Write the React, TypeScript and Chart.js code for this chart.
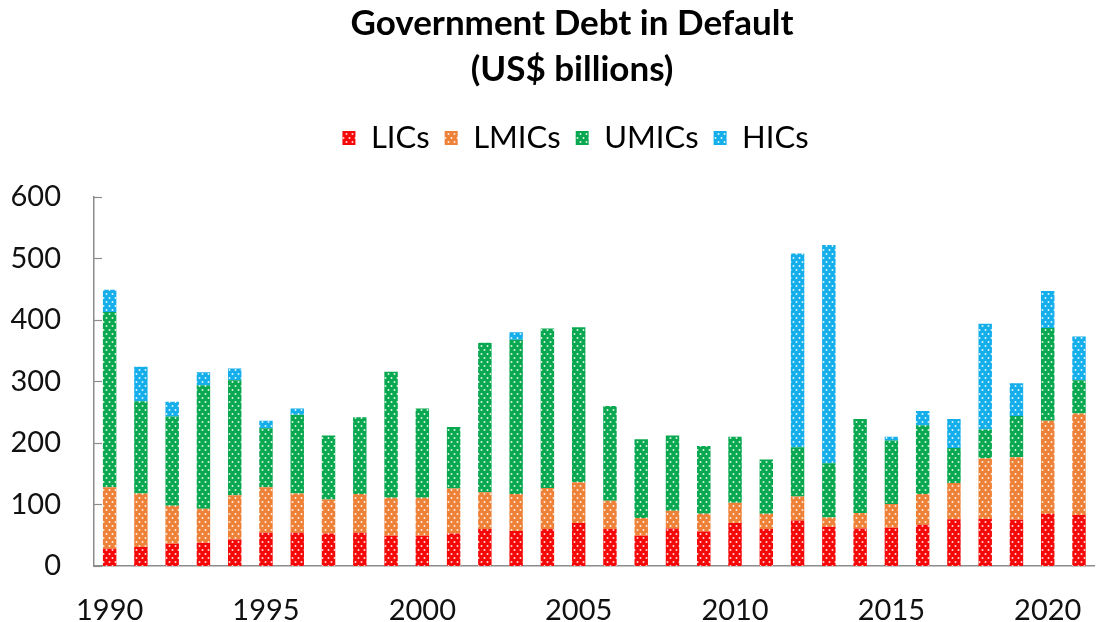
import React, { useEffect, useRef } from 'react';
import { Chart, registerables } from 'chart.js';

Chart.register(...registerables);

const years = ['1990','1991','1992','1993','1994','1995','1996','1997','1998','1999','2000','2001','2002','2003','2004','2005','2006','2007','2008','2009','2010','2011','2012','2013','2014','2015','2016','2017','2018','2019','2020','2021'];
const xTickLabels = ['1990','1995','2000','2005','2010','2015','2020'];

const lics = [28,31,36,38,43,54,54,53,54,49,49,53,60,57,60,70,60,49,61,56,70,60,74,64,61,62,67,76,77,75,85,83];
const lmics = [100,87,62,55,72,74,64,55,63,62,62,73,60,60,67,66,46,29,29,29,33,25,39,15,25,39,50,59,98,102,151,165];
const umics = [285,150,145,201,187,96,128,104,125,205,145,100,243,251,259,252,154,128,122,110,107,88,80,88,153,103,112,57,47,67,151,54];
const hics = [36,56,24,21,19,12,10,0,0,0,0,0,0,12,0,0,0,0,0,0,0,0,315,355,0,6,23,47,172,53,60,71];

const seriesNames = ['LICs', 'LMICs', 'UMICs', 'HICs'];
const seriesColors = ['#f50808', '#ee8138', '#08a850', '#14aeea'];

const FONT = 'Lato, "Open Sans", sans-serif';

function makePattern(color: string): CanvasPattern | string {
  const c = document.createElement('canvas');
  c.width = 6;
  c.height = 8;
  const g = c.getContext('2d');
  if (!g) return color;
  g.fillStyle = color;
  g.fillRect(0, 0, 6, 8);
  g.fillStyle = 'rgba(255,255,255,0.85)';
  g.beginPath();
  g.arc(1.5, 2, 1, 0, Math.PI * 2);
  g.moveTo(5.5, 6);
  g.arc(4.5, 6, 1, 0, Math.PI * 2);
  g.fill();
  return g.createPattern(c, 'repeat') || color;
}

const legendMargin = {
  id: 'legendMargin',
  beforeInit(chart: any) {
    if (!chart.legend) return;
    const orig = chart.legend.fit;
    chart.legend.fit = function fit() {
      orig.bind(chart.legend)();
      this.height += 33.5;
    };
  },
};

const shiftHeader = {
  id: 'shiftHeader',
  afterLayout(chart: any) {
    if (chart.titleBlock) chart.titleBlock.left += 33;
    if (chart.legend) chart.legend.left += 40;
  },
};

const innerTicks = {
  id: 'innerTicks',
  afterDraw(chart: any) {
    const y = chart.scales.y;
    const ctx = chart.ctx;
    const left = chart.chartArea.left;
    ctx.save();
    ctx.strokeStyle = '#8c8c8c';
    ctx.lineWidth = 1.2;
    y.ticks.forEach((t: any) => {
      const py = Math.round(y.getPixelForValue(t.value)) + 0.5;
      ctx.beginPath();
      ctx.moveTo(left, py);
      ctx.lineTo(left + 8, py);
      ctx.stroke();
    });
    ctx.restore();
  },
};

export default function App() {
  const ref = useRef<HTMLCanvasElement | null>(null);

  useEffect(() => {
    if (!ref.current) return;
    const dataSets = [lics, lmics, umics, hics];
    const chart = new Chart(ref.current, {
      type: 'bar',
      data: {
        labels: years,
        datasets: dataSets.map((d, i) => ({
          label: seriesNames[i],
          data: d,
          backgroundColor: makePattern(seriesColors[i]) as any,
          borderWidth: 0,
          categoryPercentage: 1,
          barPercentage: 0.43,
        })),
      },
      options: {
        responsive: false,
        animation: false,
        layout: { padding: { left: 10, right: 0, top: 0, bottom: 0 } },
        plugins: {
          title: {
            display: true,
            text: ['Government Debt in Default', '(US$ billions)'],
            color: '#000',
            font: { family: FONT, size: 35, weight: 'bold', lineHeight: 1.314 },
            padding: { top: 1, bottom: 14.5 },
          },
          legend: {
            display: true,
            labels: {
              color: '#000',
              font: { family: FONT, size: 31 },
              boxWidth: 13,
              boxHeight: 14,
              padding: 15,
            },
          },
          tooltip: { enabled: false },
        },
        scales: {
          x: {
            stacked: true,
            grid: { display: false },
            border: { display: true, color: '#8c8c8c', width: 1.5 },
            ticks: {
              autoSkip: false,
              maxRotation: 0,
              color: '#111',
              font: { family: FONT, size: 29, lineHeight: 1 },
              padding: 22,
              callback: (_v: any, i: number) => (xTickLabels.includes(years[i]) ? years[i] : ''),
            },
            afterFit: (scale: any) => {
              scale.height = 56;
            },
          },
          y: {
            stacked: true,
            min: 0,
            max: 600,
            grid: { display: false },
            border: { display: true, color: '#8c8c8c', width: 1.5 },
            ticks: {
              stepSize: 100,
              color: '#111',
              font: { family: FONT, size: 29, lineHeight: 1 },
              padding: 25,
            },
            afterFit: (scale: any) => {
              scale.width = 84;
            },
          },
        },
      },
      plugins: [legendMargin, shiftHeader, innerTicks],
    });
    return () => chart.destroy();
  }, []);

  return (
    <div style={{ position: 'absolute', left: 0, top: 0, width: 1101, height: 622, background: '#fff' }}>
      <canvas ref={ref} width={1101} height={622} />
    </div>
  );
}
